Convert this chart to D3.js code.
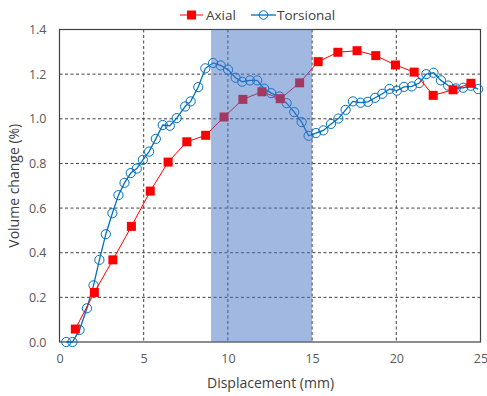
<!DOCTYPE html>
<html>
<head>
<meta charset="utf-8">
<script src="https://cdn.jsdelivr.net/npm/d3@7"></script>
<style>
    body { margin: 0; background: #fff; }
    text { font-family: "Open Sans", "Liberation Sans", sans-serif; }
</style>
</head>
<body>
<div id="chart"></div>
<script>
/* Chart data. */
const axialX = [0.94, 2.07, 3.17, 4.27, 5.39, 6.45, 7.56, 8.68, 9.77, 10.89, 12.02,
    13.11, 14.26, 15.36, 16.53, 17.67, 18.78, 19.95, 21.06, 22.19, 23.37, 24.43];
const axialY = [0.058, 0.222, 0.368, 0.518, 0.676, 0.806, 0.897, 0.926, 1.008, 1.087, 1.121,
    1.090, 1.161, 1.256, 1.298, 1.305, 1.283, 1.241, 1.209, 1.105, 1.13, 1.159];

const torsX = [0.40, 0.77, 1.19, 1.63, 2.02, 2.37, 2.75, 3.14, 3.50, 3.86, 4.23, 4.59, 4.95,
    5.32, 5.72, 6.13, 6.55, 6.96, 7.46, 7.79, 8.24, 8.66, 9.12, 9.57, 10.01, 10.46, 10.85,
    11.31, 11.74, 12.16, 12.57, 13.05, 13.49, 13.94, 14.38, 14.79, 15.23, 15.67, 16.12,
    16.56, 16.99, 17.42, 17.88, 18.31, 18.74, 19.17, 19.60, 20.03, 20.46, 20.92, 21.36,
    21.78, 22.21, 22.65, 23.08, 23.53, 23.97, 24.42, 24.86];
const torsY = [0.0, 0.0, 0.054, 0.151, 0.254, 0.368, 0.483, 0.577, 0.658, 0.713, 0.757, 0.777,
    0.816, 0.853, 0.910, 0.972, 0.969, 1.003, 1.055, 1.078, 1.142, 1.226, 1.250, 1.239, 1.220,
    1.184, 1.166, 1.172, 1.172, 1.135, 1.115, 1.100, 1.070, 1.030, 0.985, 0.924, 0.936, 0.948,
    0.977, 1.001, 1.040, 1.078, 1.072, 1.076, 1.094, 1.112, 1.134, 1.126, 1.143, 1.145, 1.160,
    1.200, 1.206, 1.172, 1.149, 1.136, 1.139, 1.148, 1.133];

const xTicks = [0, 5, 10, 15, 20, 25];
const yTicks = [0, 0.2, 0.4, 0.6, 0.8, 1.0, 1.2, 1.4];
const shadeRange = [9, 15];

/* Chart layout. */
const W = 487, H = 396;
const margin = {top: 29.5, right: 6.5, bottom: 54, left: 59.5};
const width = W - margin.left - margin.right;
const height = H - margin.top - margin.bottom;

const svg = d3.select('#chart').append('svg')
    .attr('width', W)
    .attr('height', H);

const g = svg.append('g')
    .attr('transform', 'translate(' + margin.left + ',' + margin.top + ')');

const x = d3.scaleLinear().domain([0, 25]).range([0, width]);
const y = d3.scaleLinear().domain([0, 1.4]).range([height, 0]);

// Grid lines.
g.append('g').selectAll('line')
    .data(xTicks.filter(d => d > 0 && d < 25))
    .enter().append('line')
    .attr('x1', d => x(d)).attr('x2', d => x(d))
    .attr('y1', 0).attr('y2', height)
    .attr('stroke', '#404040').attr('stroke-width', 1).attr('stroke-dasharray', '3,2.5');
g.append('g').selectAll('line')
    .data(yTicks.filter(d => d > 0 && d < 1.4))
    .enter().append('line')
    .attr('x1', 0).attr('x2', width)
    .attr('y1', d => y(d)).attr('y2', d => y(d))
    .attr('stroke', '#404040').attr('stroke-width', 1).attr('stroke-dasharray', '3,2.5');

// Axes.
const xAxis = g.append('g')
    .attr('transform', 'translate(0,' + height + ')')
    .call(d3.axisBottom(x).tickValues(xTicks).tickSize(0).tickPadding(12));
const yAxis = g.append('g')
    .call(d3.axisLeft(y).tickValues(yTicks).tickSize(0).tickPadding(13).tickFormat(d3.format('.1f')));
[xAxis, yAxis].forEach(a => {
    a.select('.domain').remove();
    a.selectAll('text').attr('fill', '#595959').style('font-size', '12.5px')
        .style('font-family', '"Open Sans", "Liberation Sans", sans-serif');
});

// Plot frame.
g.append('rect')
    .attr('x', 0).attr('y', 0).attr('width', width).attr('height', height)
    .attr('fill', 'none').attr('stroke', '#404040').attr('stroke-width', 1.2);

const axialData = axialX.map((d, i) => [d, axialY[i]]);
const torsData = torsX.map((d, i) => [d, torsY[i]]);
const line = d3.line().x(d => x(d[0])).y(d => y(d[1]));

// Torsional series.
g.append('path').datum(torsData)
    .attr('d', line).attr('fill', 'none').attr('stroke', '#0070C0').attr('stroke-width', 1.3);
g.selectAll('circle.tors').data(torsData).enter().append('circle')
    .attr('class', 'tors')
    .attr('cx', d => x(d[0])).attr('cy', d => y(d[1])).attr('r', 4.6)
    .attr('fill', 'none').attr('stroke', '#0070C0').attr('stroke-width', 1);

// Axial series.
g.append('path').datum(axialData)
    .attr('d', line).attr('fill', 'none').attr('stroke', '#FF0000').attr('stroke-width', 1);
g.selectAll('rect.axial').data(axialData).enter().append('rect')
    .attr('class', 'axial')
    .attr('x', d => x(d[0]) - 4.5).attr('y', d => y(d[1]) - 4.5)
    .attr('width', 9).attr('height', 9).attr('fill', '#FF0000');

// Shaded displacement band.
g.append('rect')
    .attr('x', x(shadeRange[0])).attr('y', 0)
    .attr('width', x(shadeRange[1]) - x(shadeRange[0])).attr('height', height)
    .attr('fill', '#4472C4').attr('fill-opacity', 0.5);

// Axis titles.
svg.append('text')
    .attr('x', margin.left + width / 2 + 0.5).attr('y', 388)
    .attr('text-anchor', 'middle').attr('fill', '#404040').style('font-size', '14px')
    .text('Displacement (mm)');
svg.append('text')
    .attr('transform', 'translate(19,' + (margin.top + height / 2) + ') rotate(-90)')
    .attr('text-anchor', 'middle').attr('fill', '#404040').style('font-size', '14px')
    .text('Volume change (%)');

// Legend.
const legend = svg.append('g').attr('transform', 'translate(0,15)');
legend.append('line').attr('x1', 180).attr('x2', 203).attr('y1', 0).attr('y2', 0)
    .attr('stroke', '#FF0000').attr('stroke-width', 1);
legend.append('rect').attr('x', 187).attr('y', -4.5).attr('width', 9).attr('height', 9)
    .attr('fill', '#FF0000');
legend.append('text').attr('x', 206).attr('y', 5).attr('fill', '#404040')
    .style('font-size', '13.5px').text('Axial');
legend.append('line').attr('x1', 251).attr('x2', 276).attr('y1', 0).attr('y2', 0)
    .attr('stroke', '#0070C0').attr('stroke-width', 1.3);
legend.append('circle').attr('cx', 263.5).attr('cy', 0).attr('r', 4.3)
    .attr('fill', 'none').attr('stroke', '#0070C0').attr('stroke-width', 1);
legend.append('text').attr('x', 277).attr('y', 5).attr('fill', '#404040')
    .style('font-size', '13.5px').text('Torsional');
</script>
</body>
</html>
